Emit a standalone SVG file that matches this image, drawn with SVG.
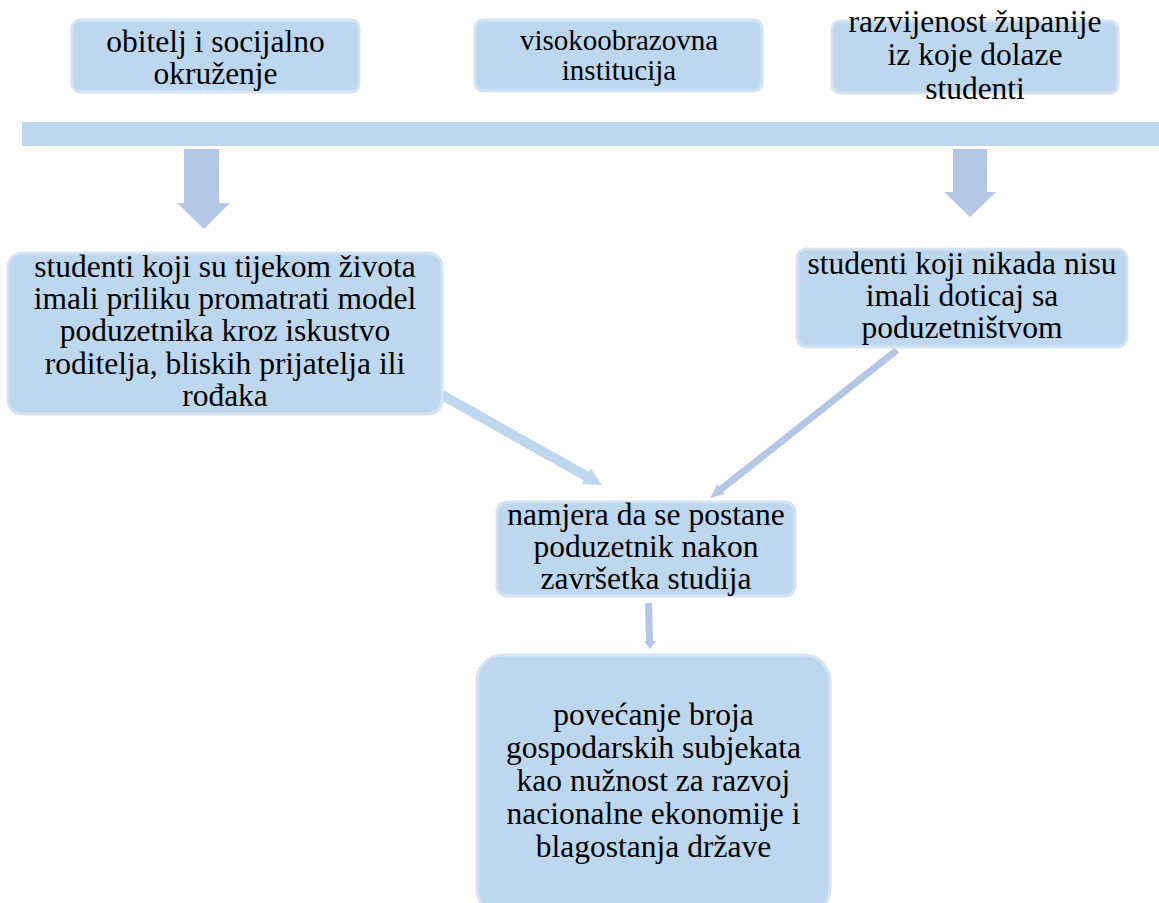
<svg xmlns="http://www.w3.org/2000/svg" width="1159" height="903" viewBox="0 0 1159 903">
<style>
.box{fill:#BDD7EE;stroke:#D5E3F3;stroke-width:3}
.t{font-size:31.5px;fill:#000;text-anchor:middle}
.arr{fill:#B4C7E7}
</style>
<rect x="0" y="0" width="1159" height="903" fill="#fff"/>
<g id="connectors">
<rect id="bar" x="22" y="122" width="1137" height="24" fill="#BDD7EE"/>
<polygon class="arr" points="184,149 219,149 219,203 230,203 204,229 177,203 184,203"/>
<polygon class="arr" points="953,149 987,149 987,192 996,192 970,217 944,192 953,192"/>
<polygon fill="#BDD7EE" points="444.45,390.64 588.75,471.85 590.7,468.4 602,485 581.9,484 583.85,480.56 439.55,399.36"/>
<polygon fill="#B4C7E7" points="894.83,347.26 718.81,486.57 717.3,484.6 710,498 724.7,494 723.15,492.05 899.17,352.74"/>
<polygon fill="#B4C7E7" points="645,603 652,603 653,641 656,641 650,649 644,641 646,641"/>
</g>
<g font-family="'Liberation Serif', 'Times New Roman', 'DejaVu Serif', serif">
<g id="n1"><rect class="box" x="72" y="20" width="287" height="72" rx="8"/>
<text class="t" x="215.5" y="52">obitelj i socijalno</text><text class="t" x="215.5" y="84">okruženje</text></g>
<g id="n2"><rect class="box" x="475" y="20" width="287" height="71" rx="8"/>
<text class="t" x="619" y="50" style="font-size:29px">visokoobrazovna</text><text class="t" x="619" y="80" style="font-size:29px">institucija</text></g>
<g id="n3"><rect class="box" x="832" y="21" width="286" height="72" rx="8"/>
<text class="t" x="975" y="32">razvijenost županije</text><text class="t" x="975" y="65">iz koje dolaze</text><text class="t" x="975" y="99">studenti</text></g>
<g id="n4"><rect class="box" x="8" y="253" width="434" height="161" rx="14"/>
<text class="t" x="225" y="277">studenti koji su tijekom života</text>
<text class="t" x="225" y="309">imali priliku promatrati model</text>
<text class="t" x="225" y="341">poduzetnika kroz iskustvo</text>
<text class="t" x="225" y="374">roditelja, bliskih prijatelja ili</text>
<text class="t" x="225" y="406">rođaka</text></g>
<g id="n5"><rect class="box" x="797" y="249" width="330" height="98" rx="10"/>
<text class="t" x="962" y="274">studenti koji nikada nisu</text>
<text class="t" x="962" y="306">imali doticaj sa</text>
<text class="t" x="962" y="338">poduzetništvom</text></g>
<g id="n6"><rect class="box" x="497" y="502" width="298" height="94" rx="10"/>
<text class="t" x="646" y="525">namjera da se postane</text>
<text class="t" x="646" y="557">poduzetnik nakon</text>
<text class="t" x="646" y="589">završetka studija</text></g>
<g id="n7"><rect class="box" x="477" y="655" width="353" height="260" rx="26"/>
<text class="t" x="653.5" y="725">povećanje broja</text>
<text class="t" x="653.5" y="758">gospodarskih subjekata</text>
<text class="t" x="653.5" y="791">kao nužnost za razvoj</text>
<text class="t" x="653.5" y="824">nacionalne ekonomije i</text>
<text class="t" x="653.5" y="857">blagostanja države</text></g>
</g>
</svg>
